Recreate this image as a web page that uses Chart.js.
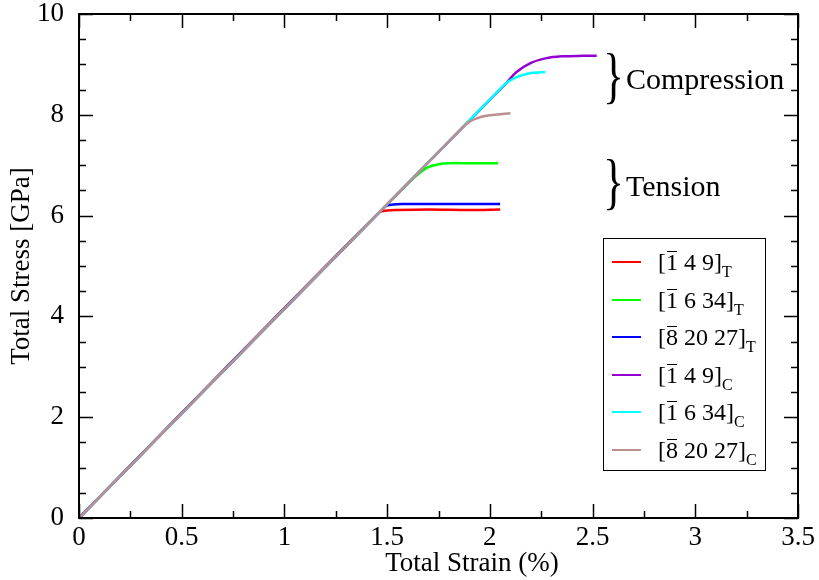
<!DOCTYPE html>
<html>
<head>
<meta charset="utf-8">
<script src="https://cdn.jsdelivr.net/npm/chart.js@4.4.1/dist/chart.umd.min.js"></script>
<style>
  body { margin: 0; background: #fff; }
  #wrap { position: relative; width: 819px; height: 580px; font-family: 'Liberation Serif', 'Times New Roman', serif; }
  #legend { position: absolute; left: 603px; top: 238px; width: 163px; height: 233px; border: 1.5px solid #000; box-sizing: border-box; background: #fff; }
  .row { position: absolute; left: 0; height: 30px; font-size: 24px; line-height: 30px; white-space: nowrap; }
  .row .ln { position: absolute; left: 8px; top: 14px; width: 29px; height: 2px; }
  .row .tx { position: absolute; left: 54px; top: 0; }
  .ob { position: relative; }
  .ob::before { content: ''; position: absolute; left: 1px; right: 1px; top: 2px; border-top: 1.5px solid #000; }
  sub { font-size: 16px; vertical-align: -7px; line-height: 0; }
  .note { position: absolute; font-size: 30px; white-space: nowrap; }
  .brace { position: absolute; font-size: 62px; line-height: 1; transform: scaleX(0.7); transform-origin: left top; }
</style>
</head>
<body>
<div id="wrap">
  <canvas id="chart" width="819" height="580"></canvas>
  <div class="brace" style="left:603px; top:44px;">}</div>
  <div class="note" style="left:626px; top:62px;">Compression</div>
  <div class="brace" style="left:603px; top:150px;">}</div>
  <div class="note" style="left:626px; top:169px;">Tension</div>
  <div id="legend"></div>
</div>
<script>
// strain (%) / stress (GPa)
const strainT1 = [0, 1.46, 1.50, 1.55, 1.70, 1.90, 2.05];
const stressT1 = [0, 6.06, 6.10, 6.11, 6.12, 6.11, 6.12];

const strainT2 = [0, 1.55, 1.60, 1.65, 1.70, 1.75, 1.80, 1.90, 2.04];
const stressT2 = [0, 6.43, 6.63, 6.82, 6.96, 7.02, 7.04, 7.04, 7.04];

const strainT3 = [0, 1.49, 1.53, 1.57, 1.70, 1.90, 2.05];
const stressT3 = [0, 6.18, 6.22, 6.23, 6.23, 6.23, 6.23];

const strainC1 = [0, 2.02, 2.08, 2.13, 2.20, 2.27, 2.35, 2.45, 2.52];
const stressC1 = [0, 8.38, 8.63, 8.85, 9.03, 9.12, 9.16, 9.17, 9.17];

const strainC2 = [0, 2.04, 2.08, 2.12, 2.16, 2.20, 2.27];
const stressC2 = [0, 8.47, 8.63, 8.73, 8.79, 8.83, 8.85];

const strainC3 = [0, 1.86, 1.90, 1.95, 2.00, 2.05, 2.10];
const stressC3 = [0, 7.72, 7.86, 7.95, 7.99, 8.01, 8.03];

const xTicks = [0, 0.5, 1, 1.5, 2, 2.5, 3, 3.5];
const yTicks = [0, 2, 4, 6, 8, 10];

const series = [
  { name: '<span class="ob">1</span> 4 9]', sub: 'T', color: '#ff0000', x: strainT1, y: stressT1, order: 6 },
  { name: '<span class="ob">1</span> 6 34]', sub: 'T', color: '#00ff00', x: strainT2, y: stressT2, order: 5 },
  { name: '<span class="ob">8</span> 20 27]', sub: 'T', color: '#0000ff', x: strainT3, y: stressT3, order: 4 },
  { name: '<span class="ob">1</span> 4 9]', sub: 'C', color: '#9400d3', x: strainC1, y: stressC1, order: 3 },
  { name: '<span class="ob">1</span> 6 34]', sub: 'C', color: '#00ffff', x: strainC2, y: stressC2, order: 2 },
  { name: '<span class="ob">8</span> 20 27]', sub: 'C', color: '#bc8f8f', x: strainC3, y: stressC3, order: 1 }
];

// legend
const legend = document.getElementById('legend');
series.forEach((s, i) => {
  const row = document.createElement('div');
  row.className = 'row';
  row.style.top = (8 + i * 37.6) + 'px';
  row.innerHTML = `<div class="ln" style="background:${s.color}"></div><div class="tx">[${s.name}<sub>${s.sub}</sub></div>`;
  legend.appendChild(row);
});

const serif = "'Liberation Serif', 'Times New Roman', serif";

// frame + inward ticks on all four sides, x title (sits right of centre in the original)
const framePlugin = {
  id: 'frame',
  afterDraw(chart) {
    const { ctx, chartArea: a, scales: { x, y } } = chart;
    ctx.save();
    ctx.strokeStyle = '#000';
    ctx.lineWidth = 2;
    ctx.strokeRect(a.left, a.top, a.right - a.left, a.bottom - a.top);
    ctx.lineWidth = 1.5;
    ctx.beginPath();
    for (let v = 0; v <= 3.5001; v += 0.25) {
      const px = Math.round(x.getPixelForValue(v)) + 0.5;
      const len = Math.abs(v / 0.5 - Math.round(v / 0.5)) < 1e-6 ? 14 : 7;
      ctx.moveTo(px, a.bottom); ctx.lineTo(px, a.bottom - len);
      ctx.moveTo(px, a.top); ctx.lineTo(px, a.top + len);
    }
    for (let v = 0; v <= 10.001; v += 0.5) {
      const py = Math.round(y.getPixelForValue(v)) + 0.5;
      const len = Math.abs(v / 2 - Math.round(v / 2)) < 1e-6 ? 14 : 7;
      ctx.moveTo(a.left, py); ctx.lineTo(a.left + len, py);
      ctx.moveTo(a.right, py); ctx.lineTo(a.right - len, py);
    }
    ctx.stroke();
    ctx.fillStyle = '#000';
    ctx.font = '27px ' + serif;
    ctx.textAlign = 'center';
    ctx.textBaseline = 'alphabetic';
    ctx.fillText('Total Strain (%)', 472, 571);
    ctx.restore();
  }
};

new Chart(document.getElementById('chart'), {
  type: 'scatter',
  data: {
    datasets: series.map(s => ({
      label: s.sub,
      data: s.x.map((v, i) => ({ x: v, y: s.y[i] })),
      borderColor: s.color,
      backgroundColor: s.color,
      borderWidth: 2.5,
      showLine: true,
      pointRadius: 0,
      tension: 0.3,
      order: s.order
    }))
  },
  options: {
    responsive: false,
    animation: false,
    layout: { padding: { left: 0, top: 14, right: 21, bottom: 0 } },
    plugins: { legend: { display: false }, tooltip: { enabled: false } },
    scales: {
      x: {
        type: 'linear', min: 0, max: 3.5,
        afterBuildTicks: sc => { sc.ticks = xTicks.map(v => ({ value: v })); },
        afterFit: sc => { sc.height = 62; sc.paddingLeft = 0; sc.paddingRight = 0; },
        grid: { display: false },
        border: { display: false },
        ticks: { color: '#000', padding: -4, font: { family: serif, size: 27 }, maxRotation: 0, callback: v => String(v) },
        title: { display: false, text: 'Total Strain (%)' }
      },
      y: {
        type: 'linear', min: 0, max: 10,
        afterBuildTicks: sc => { sc.ticks = yTicks.map(v => ({ value: v })); },
        afterFit: sc => { sc.width = 79; sc.paddingTop = 0; sc.paddingBottom = 0; },
        grid: { display: false },
        border: { display: false },
        ticks: { color: '#000', padding: 7, font: { family: serif, size: 27 }, callback: v => String(v) },
        title: { display: true, text: 'Total Stress [GPa]', color: '#000', font: { family: serif, size: 27 }, padding: { top: 6, bottom: 0 } }
      }
    }
  },
  plugins: [framePlugin]
});
</script>
</body>
</html>
